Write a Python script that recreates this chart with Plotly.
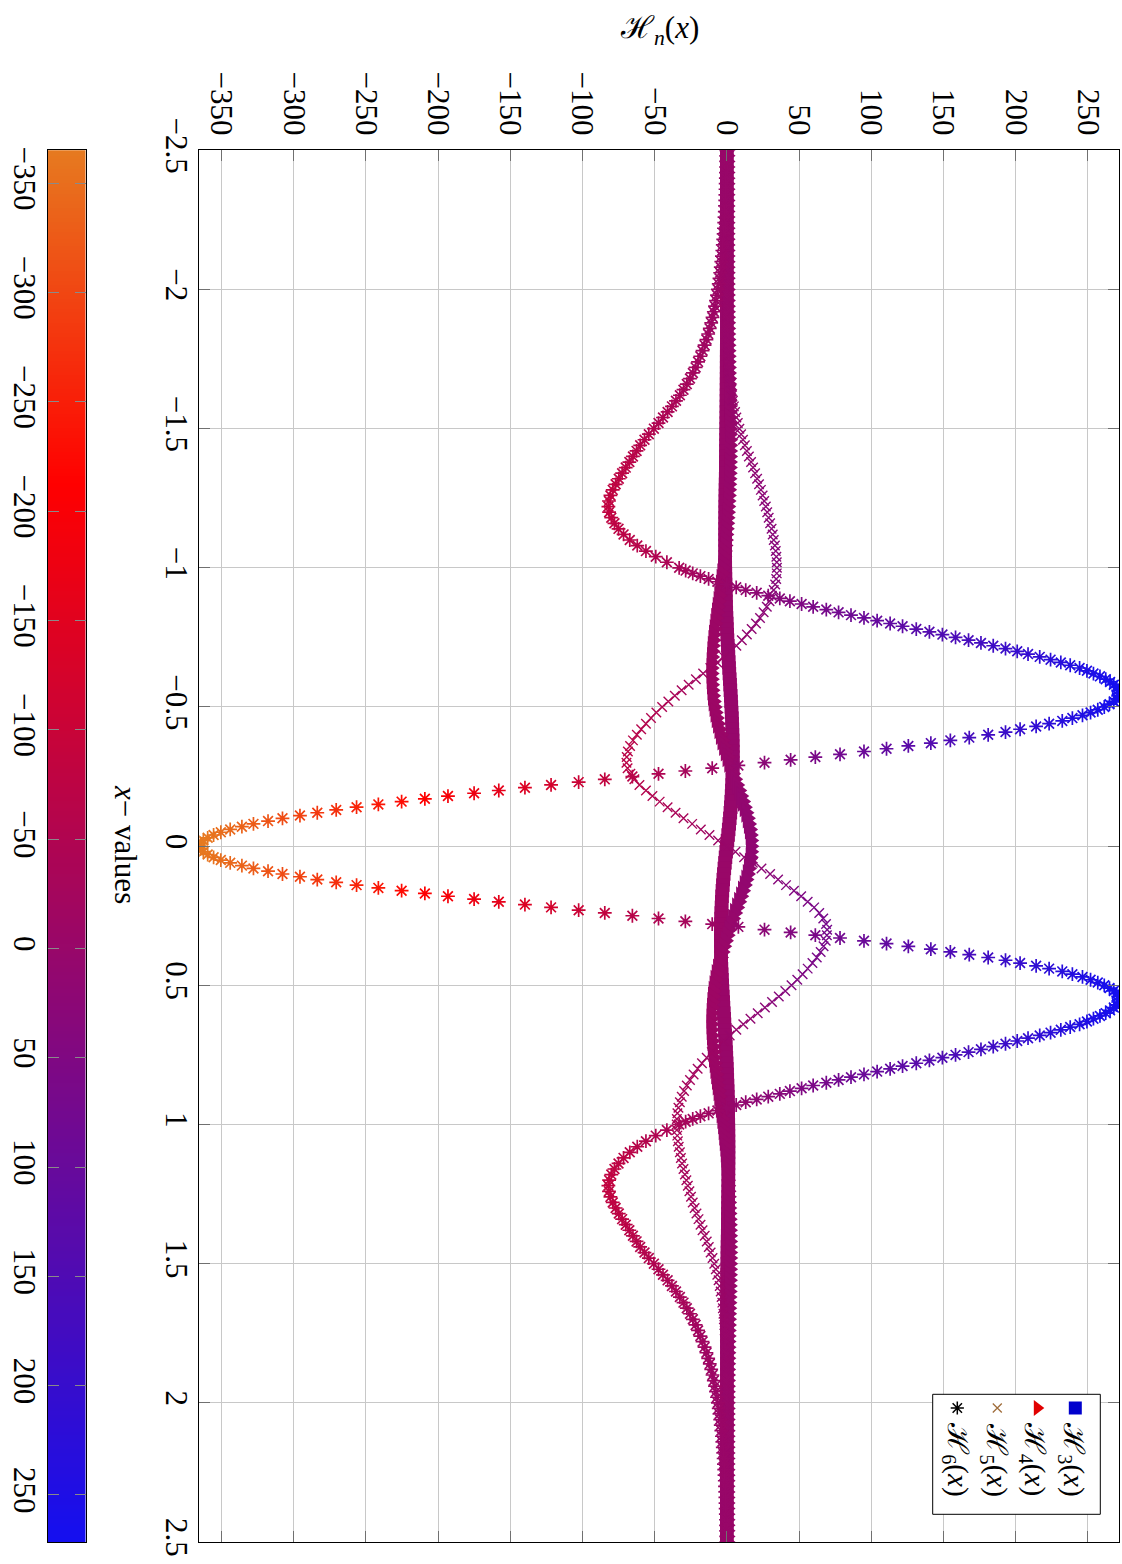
import numpy as np
import plotly.graph_objects as go

# ---------------- sample positions (x-values, uniform grids) -------------
x_common = np.round(np.linspace(-2.5, 2.5, 251), 2)
x_h6 = np.round(np.concatenate([np.linspace(-2.5, -1.02, 75),
                                np.linspace(-1.0, 1.0, 201),
                                np.linspace(1.02, 2.5, 75)]), 2)

# ---------------- series values ----------------
h3 = [0, 0, 0, 0, 0, 0,
      0, 0, 0, 0, 0, 0, 0, 0, 0, 0,
      0, 0, 0, 0, 0, -0.01, -0.01, -0.01, -0.01, -0.01,
      -0.01, -0.02, -0.02, -0.02, -0.03, -0.03, -0.04, -0.04, -0.05, -0.06,
      -0.07, -0.08, -0.09, -0.1, -0.11, -0.13, -0.15, -0.17, -0.19, -0.21,
      -0.24, -0.27, -0.3, -0.34, -0.38, -0.42, -0.46, -0.5, -0.55, -0.6,
      -0.65, -0.7, -0.75, -0.8, -0.85, -0.9, -0.95, -1, -1.05, -1.05,
      -1.1, -1.1, -1.15, -1.15, -1.15, -1.15, -1.15, -1.1, -1.1, -1.05,
      -1, -0.95, -0.9, -0.8, -0.7, -0.6, -0.5, -0.35, -0.2, -0.05,
      0.1, 0.3, 0.5, 0.7, 0.9, 1.15, 1.35, 1.6, 1.8, 2.05,
      2.3, 2.5, 2.75, 2.95, 3.15, 3.35, 3.55, 3.7, 3.85, 3.95,
      4.05, 4.1, 4.15, 4.15, 4.1, 4.05, 3.95, 3.85, 3.7, 3.5,
      3.3, 3.05, 2.75, 2.45, 2.1, 1.7, 1.3, 0.9, 0.45,
      0, -0.45, -0.9, -1.3, -1.7, -2.1, -2.45, -2.75, -3.05, -3.3,
      -3.5, -3.7, -3.85, -3.95, -4.05, -4.1, -4.15, -4.15, -4.1, -4.05,
      -3.95, -3.85, -3.7, -3.55, -3.35, -3.15, -2.95, -2.75, -2.5, -2.3,
      -2.05, -1.8, -1.6, -1.35, -1.15, -0.9, -0.7, -0.5, -0.3, -0.1,
      0.05, 0.2, 0.35, 0.5, 0.6, 0.7, 0.8, 0.9, 0.95, 1,
      1.05, 1.1, 1.1, 1.15, 1.15, 1.15, 1.15, 1.15, 1.1, 1.1,
      1.05, 1.05, 1, 0.95, 0.9, 0.85, 0.8, 0.75, 0.7, 0.65,
      0.6, 0.55, 0.5, 0.46, 0.42, 0.38, 0.34, 0.3, 0.27, 0.24,
      0.21, 0.19, 0.17, 0.15, 0.13, 0.11, 0.1, 0.09, 0.08, 0.07,
      0.06, 0.05, 0.04, 0.04, 0.03, 0.03, 0.02, 0.02, 0.02, 0.01,
      0.01, 0.01, 0.01, 0.01, 0.01, 0, 0, 0, 0, 0,
      0, 0, 0, 0, 0, 0, 0, 0, 0, 0,
      0, 0, 0, 0, 0, 0]

h4 = [0, 0, 0, 0.01, 0.01, 0.01,
      0.01, 0.01, 0.01, 0.02, 0.02, 0.02, 0.03, 0.03, 0.04, 0.04,
      0.05, 0.06, 0.07, 0.08, 0.09, 0.1, 0.12, 0.14, 0.16, 0.18,
      0.21, 0.24, 0.28, 0.32, 0.36, 0.41, 0.46, 0.52, 0.58, 0.65,
      0.7, 0.8, 0.85, 0.95, 1, 1.1, 1.2, 1.3, 1.4, 1.5,
      1.55, 1.65, 1.7, 1.75, 1.8, 1.85, 1.85, 1.85, 1.8, 1.75,
      1.7, 1.6, 1.5, 1.35, 1.2, 1.1, 0.9, 0.7, 0.5, 0.3,
      0, -0.2, -0.5, -0.8, -1.1, -1.4, -1.8, -2.2, -2.6, -3,
      -3.5, -4, -4.5, -5, -5.6, -6.1, -6.7, -7.2, -7.8, -8.3,
      -8.8, -9.3, -9.7, -10.1, -10.4, -10.7, -10.9, -11, -11, -10.9,
      -10.7, -10.4, -10, -9.5, -8.9, -8.2, -7.4, -6.5, -5.5, -4.5,
      -3.4, -2.3, -1.1, 0.1, 1.3, 2.6, 3.9, 5.3, 6.7, 8.1,
      9.5, 10.8, 12, 13.1, 14.1, 14.9, 15.6, 16.1, 16.4,
      16.5, 16.4, 16.1, 15.6, 14.9, 14.1, 13.1, 12, 10.8, 9.5,
      8.1, 6.7, 5.3, 3.9, 2.6, 1.3, 0.1, -1.1, -2.3, -3.4,
      -4.5, -5.5, -6.5, -7.4, -8.2, -8.9, -9.5, -10, -10.4, -10.7,
      -10.9, -11, -11, -10.9, -10.7, -10.4, -10.1, -9.7, -9.3, -8.8,
      -8.3, -7.8, -7.2, -6.7, -6.1, -5.6, -5, -4.5, -4, -3.5,
      -3, -2.6, -2.2, -1.8, -1.4, -1.1, -0.8, -0.5, -0.2, 0,
      0.3, 0.5, 0.7, 0.9, 1.1, 1.2, 1.35, 1.5, 1.6, 1.7,
      1.75, 1.8, 1.85, 1.85, 1.85, 1.8, 1.75, 1.7, 1.65, 1.55,
      1.5, 1.4, 1.3, 1.2, 1.1, 1, 0.95, 0.85, 0.8, 0.7,
      0.65, 0.58, 0.52, 0.46, 0.41, 0.36, 0.32, 0.28, 0.24, 0.21,
      0.18, 0.16, 0.14, 0.12, 0.1, 0.09, 0.08, 0.07, 0.06, 0.05,
      0.04, 0.04, 0.03, 0.03, 0.02, 0.02, 0.02, 0.01, 0.01, 0.01,
      0.01, 0.01, 0.01, 0, 0, 0]

h5 = [0, 0, 0, 0, 0, 0,
      0, 0, 0, 0, 0.01, 0.01, 0.01, 0.01, 0.01, 0.02,
      0.02, 0.03, 0.03, 0.04, 0.05, 0.06, 0.07, 0.08, 0.1, 0.12,
      0.15, 0.18, 0.22, 0.27, 0.33, 0.4, 0.48, 0.58, 0.7, 0.85,
      1, 1.2, 1.45, 1.7, 2, 2.3, 2.7, 3.1, 3.6, 4.2,
      4.9, 5.7, 6.6, 7.6, 8.7, 9.9, 11.2, 12.5, 13.9, 15.3,
      16.8, 18.2, 19.6, 21, 22.3, 23.6, 24.8, 25.9, 27, 28,
      29, 30, 31, 31.8, 32.5, 33.3, 33.9, 34.3, 34.6, 34.7,
      34.6, 34.2, 33.5, 32.5, 31.2, 29.6, 27.7, 25.5, 23, 20.2,
      17.2, 13.9, 10.4, 6.6, 2.4, -2, -6.6, -11.4, -16.4, -21.4,
      -26.4, -31.3, -36, -40.5, -44.8, -48.8, -52.5, -56, -59.3, -62.3,
      -65, -67, -68.5, -69.3, -69.5, -68.7, -66.8, -64, -60.5, -56,
      -51.5, -46.5, -41, -35.5, -30, -24, -18, -12, -6,
      0, 6, 12, 18, 24, 30, 35.5, 41, 46.5, 51.5,
      56, 60.5, 64, 66.8, 68.7, 69.5, 69.3, 68.5, 67, 65,
      62.3, 59.3, 56, 52.5, 48.8, 44.8, 40.5, 36, 31.3, 26.4,
      21.4, 16.4, 11.4, 6.6, 2, -2.4, -6.6, -10.4, -13.9, -17.2,
      -20.2, -23, -25.5, -27.7, -29.6, -31.2, -32.5, -33.5, -34.2, -34.6,
      -34.7, -34.6, -34.3, -33.9, -33.3, -32.5, -31.8, -31, -30, -29,
      -28, -27, -25.9, -24.8, -23.6, -22.3, -21, -19.6, -18.2, -16.8,
      -15.3, -13.9, -12.5, -11.2, -9.9, -8.7, -7.6, -6.6, -5.7, -4.9,
      -4.2, -3.6, -3.1, -2.7, -2.3, -2, -1.7, -1.45, -1.2, -1,
      -0.85, -0.7, -0.58, -0.48, -0.4, -0.33, -0.27, -0.22, -0.18, -0.15,
      -0.12, -0.1, -0.08, -0.07, -0.06, -0.05, -0.04, -0.03, -0.03, -0.02,
      -0.02, -0.01, -0.01, -0.01, -0.01, -0.01, 0, 0, 0, 0,
      0, 0, 0, 0, 0, 0]

h6 = [-0.4, -0.45, -0.5, -0.55, -0.6, -0.7, -0.8, -0.9, -1.0, -1.1,
      -1.25, -1.4, -1.6, -1.8, -2.0, -2.2, -2.5, -2.8, -3.1, -3.4,
      -3.8, -4.2, -4.6, -5.1, -5.6, -6.2, -6.8, -7.5, -8.2, -9.0,
      -9.9, -10.8, -11.8, -12.9, -14.1, -15.4, -16.8, -18.3, -19.9, -21.6,
      -23.5, -25.5, -27.7, -30.0, -32.5, -35.2, -38.0, -41.0, -44.2, -47.3,
      -50.5, -54.0, -57.0, -60.0, -62.5, -65.0, -67.5, -70.0, -72.5, -74.8,
      -77.0, -79.0, -80.6, -81.6, -82.0, -81.5, -80.0, -77.8, -75.0, -71.5,
      -67.2, -62.0, -56.0, -49.2, -41.5,
      -33.0, -28.5, -23.6, -18.3, -12.6, -6.5, 0.0, 6.5, 13.1, 20.7,
      28.7, 36.7, 43.7, 51.8, 59.8, 68.9, 77.4, 86.0, 95.0, 104.1,
      113.1, 121.7, 131.2, 140.3, 149.3, 158.4, 167.4, 176.0, 184.5, 193.0,
      201.1, 208.6, 216.7, 224.2, 231.3, 237.8, 244.3, 249.4, 253.9, 258.4,
      262.4, 265.4, 268.0, 270.0, 271.0, 271.5, 271.0, 270.0, 268.0, 265.0,
      261.4, 256.9, 251.9, 246.3, 239.3, 232.3, 223.2, 214.2, 203.1, 193.0,
      181.0, 167.9, 154.8, 141.3, 125.7, 110.6, 95.0, 78.4, 61.3, 44.2,
      26.1, 8.0, -10.1, -28.7, -47.3, -65.4, -84.5, -102.6, -121.7, -139.8,
      -157.9, -175.0, -193.1, -209.1, -225.2, -241.3, -256.4, -270.5, -283.6, -295.6,
      -307.7, -317.7, -327.8, -335.8, -343.9, -350.4, -355.4, -359.5, -362.5, -364.5,
      -365.0,
      -364.5, -362.5, -359.5, -355.4, -350.4, -343.9, -335.8, -327.8, -317.7,
      -307.7, -295.6, -283.6, -270.5, -256.4, -241.3, -225.2, -209.1, -193.1, -175.0,
      -157.9, -139.8, -121.7, -102.6, -84.5, -65.4, -47.3, -28.7, -10.1, 8.0,
      26.1, 44.2, 61.3, 78.4, 95.0, 110.6, 125.7, 141.3, 154.8, 167.9,
      181.0, 193.0, 203.1, 214.2, 223.2, 232.3, 239.3, 246.3, 251.9, 256.9,
      261.4, 265.0, 268.0, 270.0, 271.0, 271.5, 271.0, 270.0, 268.0, 265.4,
      262.4, 258.4, 253.9, 249.4, 244.3, 237.8, 231.3, 224.2, 216.7, 208.6,
      201.1, 193.0, 184.5, 176.0, 167.4, 158.4, 149.3, 140.3, 131.2, 121.7,
      113.1, 104.1, 95.0, 86.0, 77.4, 68.9, 59.8, 51.8, 43.7, 36.7,
      28.7, 20.7, 13.1, 6.5, 0.0, -6.5, -12.6, -18.3, -23.6, -28.5,
      -33.0,
      -41.5, -49.2, -56.0, -62.0, -67.2, -71.5, -75.0, -77.8, -80.0, -81.5,
      -82.0, -81.6, -80.6, -79.0, -77.0, -74.8, -72.5, -70.0, -67.5, -65.0,
      -62.5, -60.0, -57.0, -54.0, -50.5, -47.3, -44.2, -41.0, -38.0, -35.2,
      -32.5, -30.0, -27.7, -25.5, -23.5, -21.6, -19.9, -18.3, -16.8, -15.4,
      -14.1, -12.9, -11.8, -10.8, -9.9, -9.0, -8.2, -7.5, -6.8, -6.2,
      -5.6, -5.1, -4.6, -4.2, -3.8, -3.4, -3.1, -2.8, -2.5, -2.2,
      -2.0, -1.8, -1.6, -1.4, -1.25, -1.1, -1.0, -0.9, -0.8, -0.7,
      -0.6, -0.55, -0.5, -0.45, -0.4]

series_names = ["ℋ<sub>3</sub>(<i>x</i>)", "ℋ<sub>4</sub>(<i>x</i>)",
                "ℋ<sub>5</sub>(<i>x</i>)", "ℋ<sub>6</sub>(<i>x</i>)"]

h_ticks = [-350, -300, -250, -200, -150, -100, -50, 0, 50, 100, 150, 200, 250]
h_tick_labels = ["−350", "−300", "−250", "−200", "−150", "−100", "−50",
                 "0", "50", "100", "150", "200", "250"]
x_ticks = [-2.5, -2, -1.5, -1, -0.5, 0, 0.5, 1, 1.5, 2, 2.5]
x_tick_labels = ["−2.5", "−2", "−1.5", "−1", "−0.5", "0", "0.5", "1", "1.5", "2", "2.5"]

for nm, xs, ys in [("h3", x_common, h3), ("h4", x_common, h4), ("h5", x_common, h5), ("h6", x_h6, h6)]:
    if len(xs) != len(ys):
        raise SystemExit(f"length mismatch {nm}: {len(xs)} vs {len(ys)}")

# ---------------- styling ----------------
H_MIN, H_MAX = -365.0, 271.5
COLORSCALE = [[0.0, "rgb(230,122,32)"], [0.2404, "rgb(255,0,0)"], [1.0, "rgb(20,15,240)"]]
FONT = "Liberation Serif"
W, H = 1122, 1564

def px_x(p):
    return p / W

def px_y(p):
    return 1 - p / H

main_xdom = [px_x(199.3), px_x(1119.3)]
main_ydom = [px_y(1542.0), px_y(150.3)]
cb_xdom = [px_x(47.7), px_x(85.7)]

fig = go.Figure()

def marker_common(vals):
    return dict(color=vals, colorscale=COLORSCALE, cmin=H_MIN, cmax=H_MAX)

fig.add_trace(go.Scatter(x=h3, y=x_common, mode="markers", xaxis="x", yaxis="y",
                         marker=dict(symbol="square", size=13.5, line=dict(width=0), **marker_common(h3)),
                         hoverinfo="skip"))
fig.add_trace(go.Scatter(x=h4, y=x_common, mode="markers", xaxis="x", yaxis="y",
                         marker=dict(symbol="triangle-right", size=17.5, line=dict(width=0), **marker_common(h4)),
                         hoverinfo="skip"))
fig.add_trace(go.Scatter(x=h5, y=x_common, mode="markers", xaxis="x", yaxis="y",
                         marker=dict(symbol="x-thin-open", size=9.5, line=dict(width=1.4), **marker_common(h5)),
                         hoverinfo="skip"))
fig.add_trace(go.Scatter(x=h6, y=x_h6, mode="markers", xaxis="x", yaxis="y",
                         marker=dict(symbol="asterisk-open", size=11.5, line=dict(width=1.7), **marker_common(h6)),
                         hoverinfo="skip"))

# colour bar drawn as a one-column heatmap in its own axes
cb_vals = np.linspace(H_MIN, H_MAX, 400)
fig.add_trace(go.Heatmap(z=[[v] for v in cb_vals], x=[0], y=cb_vals, xaxis="x2", yaxis="y2",
                         colorscale=COLORSCALE, zmin=H_MIN, zmax=H_MAX, showscale=False,
                         hoverinfo="skip"))

# legend (hand-made, rotated like the reference)
LEG_BOX_X = [932.7, 1100.3, 1100.3, 932.7, 932.7]
LEG_BOX_Y = [1394.3, 1394.3, 1514.3, 1514.3, 1394.3]
fig.add_trace(go.Scatter(x=LEG_BOX_X, y=LEG_BOX_Y, xaxis="x3", yaxis="y3", mode="lines",
                         fill="toself", fillcolor="white", line=dict(color="black", width=1),
                         hoverinfo="skip"))
leg_cols = [1075.3, 1037.3, 997.3, 957.3]
leg_colors = ["rgb(0,0,205)", "rgb(225,0,0)", "rgb(160,110,60)", "black"]
fig.add_trace(go.Scatter(x=leg_cols, y=[1408.0] * 4, xaxis="x3", yaxis="y3", mode="markers",
                         marker=dict(symbol=["square", "triangle-right", "x-thin-open", "asterisk-open"],
                                     size=[13, 14, 9, 11], color=leg_colors, opacity=1,
                                     line=dict(width=[0, 0, 1.3, 1.5], color=leg_colors)),
                         hoverinfo="skip"))

annotations = []
for cx, name in zip([1071.7, 1033.3, 994.5, 955.8], series_names):
    annotations.append(dict(x=px_x(cx), y=px_y(1459), xref="paper", yref="paper", text=name,
                            textangle=90, showarrow=False, font=dict(family=FONT, size=29, color="black"),
                            xanchor="center", yanchor="middle"))
annotations.append(dict(x=px_x(659), y=px_y(30), xref="paper", yref="paper",
                        text="ℋ<sub><i>n</i></sub>(<i>x</i>)", showarrow=False,
                        font=dict(family=FONT, size=31, color="black"), xanchor="center", yanchor="middle"))
annotations.append(dict(x=px_x(125), y=px_y(844), xref="paper", yref="paper",
                        text="<i>x</i>− values", textangle=90, showarrow=False,
                        font=dict(family=FONT, size=31, color="black"), xanchor="center", yanchor="middle"))

tickfont = dict(family=FONT, size=31, color="black")
fig.update_layout(
    width=W, height=H, margin=dict(l=0, r=0, t=0, b=0, autoexpand=False),
    paper_bgcolor="white", plot_bgcolor="rgba(0,0,0,0)", showlegend=False,
    font=dict(family=FONT, size=31, color="black"),
    xaxis=dict(domain=main_xdom, anchor="y", range=[-365.3, 271.8], side="top",
               tickmode="array", tickvals=h_ticks, ticktext=h_tick_labels, tickangle=90,
               ticks="inside", ticklen=11, tickwidth=1, tickcolor="#707070",
               showgrid=True, gridcolor="#c8c8c8", gridwidth=1, zeroline=False,
               showline=True, linecolor="black", linewidth=1, mirror="ticks",
               tickfont=tickfont, ticklabelstandoff=3, automargin=False),
    yaxis=dict(domain=main_ydom, anchor="x", range=[2.5, -2.5],
               tickmode="array", tickvals=x_ticks, ticktext=x_tick_labels, tickangle=90,
               ticks="inside", ticklen=11, tickwidth=1, tickcolor="#707070",
               showgrid=True, gridcolor="#c8c8c8", gridwidth=1, zeroline=False,
               showline=True, linecolor="black", linewidth=1, mirror="ticks",
               tickfont=tickfont, ticklabelstandoff=-5, automargin=False),
    xaxis2=dict(domain=cb_xdom, anchor="y2", range=[-0.5, 0.5], showticklabels=False,
                ticks="", showgrid=False, zeroline=False, showline=True, linecolor="black",
                linewidth=1, mirror=True, automargin=False),
    yaxis2=dict(domain=main_ydom, anchor="x2", range=[H_MAX, H_MIN], side="left",
                tickmode="array", tickvals=h_ticks, ticktext=h_tick_labels, tickangle=90,
                ticks="inside", ticklen=11, tickwidth=1, tickcolor="#8a8a8a",
                showgrid=False, zeroline=False, showline=True, linecolor="black",
                linewidth=1, mirror="ticks", tickfont=tickfont, ticklabelstandoff=-5,
                automargin=False),
    xaxis3=dict(domain=[0, 1], anchor="y3", range=[0, W], visible=False, fixedrange=True),
    yaxis3=dict(domain=[0, 1], anchor="x3", range=[H, 0], visible=False, fixedrange=True),
    annotations=annotations,
)

fig.write_html("out.html", config={"displayModeBar": False},
               post_script="document.body.style.margin='0px';")
